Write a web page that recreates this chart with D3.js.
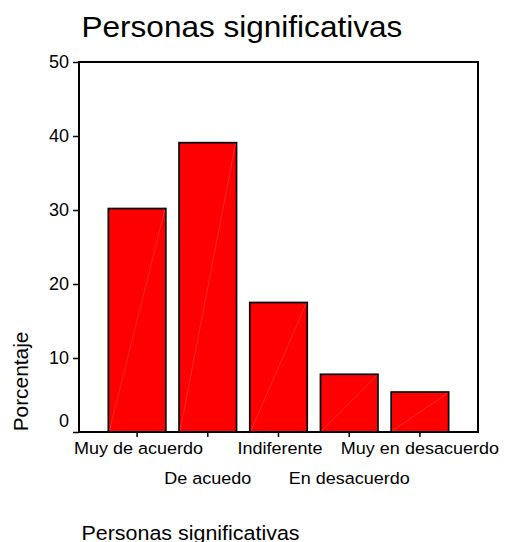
<!DOCTYPE html>
<html>
<head>
<meta charset="utf-8">
<script src="https://cdn.jsdelivr.net/npm/d3@7"></script>
<style>
  html, body { margin: 0; padding: 0; background: #fff; }
  svg { display: block; font-family: "Liberation Sans", Arial, sans-serif; }
</style>
</head>
<body>
<svg id="chart" width="505" height="542"></svg>
<script>
const categories = ["Muy de acuerdo", "De acuedo", "Indiferente", "En desacuerdo", "Muy en desacuerdo"];
const values = [30.2, 39.1, 17.5, 7.8, 5.4];
const yTicks = [0, 10, 20, 30, 40, 50];
const title = "Personas significativas";
const yLabel = "Porcentaje";
const footer = "Personas significativas";

(function () {
const svg = d3.select("#chart");
const pLeft = 79, pRight = 478, pTop = 62, pBottom = 432;

const x = d3.scaleBand().domain(categories).range([pLeft, pRight])
  .paddingInner(0.187).paddingOuter(0.415);
const y = d3.scaleLinear().domain([0, 50]).range([pBottom, pTop]);

function stext(g, txt, tx, ty, size, sx, anchor, rot) {
  return g.append("text")
    .attr("transform", `translate(${tx},${ty})` + (rot ? ` rotate(${rot})` : "") + ` scale(${sx},1)`)
    .attr("font-size", size)
    .attr("text-anchor", anchor)
    .attr("fill", "#000")
    .text(txt);
}

// Title
stext(svg, title, 81.5, 37, 30, 1.052, "start");

// Bars
const bars = svg.append("g");
bars.selectAll("rect").data(values).join("rect")
  .attr("x", (d, i) => x(categories[i]))
  .attr("y", d => y(d))
  .attr("width", x.bandwidth())
  .attr("height", d => y(0) - y(d))
  .attr("fill", "#ff0000")
  .attr("stroke", "#000")
  .attr("stroke-width", 1.7);
bars.selectAll("line").data(values).join("line")
  .attr("x1", (d, i) => x(categories[i]) + 1)
  .attr("y1", y(0) - 1)
  .attr("x2", (d, i) => x(categories[i]) + x.bandwidth() - 1)
  .attr("y2", d => y(d) + 1)
  .attr("stroke", "#ff8c8c")
  .attr("stroke-width", 0.5)
  .attr("opacity", 0.6);

// Frame
svg.append("rect")
  .attr("x", pLeft).attr("y", pTop)
  .attr("width", pRight - pLeft).attr("height", pBottom - pTop)
  .attr("fill", "none").attr("stroke", "#000").attr("stroke-width", 2);

// Y axis ticks
const yAxis = d3.axisLeft(y).tickValues(yTicks).tickSize(6).tickFormat("");
const yg = svg.append("g").attr("transform", `translate(${pLeft},0)`).call(yAxis);
yg.select(".domain").remove();
yg.selectAll(".tick line").attr("stroke", "#000").attr("stroke-width", 1.5);
yTicks.forEach(t => {
  const yy = y(t) + (t === 0 ? -11 : 0);
  stext(svg, String(t), 69, yy + 6, 17.5, 1.03, "end");
});

// X axis ticks
const xAxis = d3.axisBottom(x).tickSize(5).tickFormat("");
const xg = svg.append("g").attr("transform", `translate(0,${pBottom})`).call(xAxis);
xg.select(".domain").remove();
xg.selectAll(".tick line").attr("stroke", "#000").attr("stroke-width", 1.5);
categories.forEach((c, i) => {
  const cx = x(c) + x.bandwidth() / 2;
  const by = i % 2 === 0 ? 453.5 : 483.5;
  stext(svg, c, cx + (i === 0 || i === 2 ? 1.5 : 0), by, 17, 1.06, "middle");
});

// Y label
stext(svg, yLabel, 28, 381.5, 19.5, 1.07, "middle", -90);

// Footer
stext(svg, footer, 81.5, 539.5, 19.5, 1.1, "start");
})();
</script>
</body>
</html>
